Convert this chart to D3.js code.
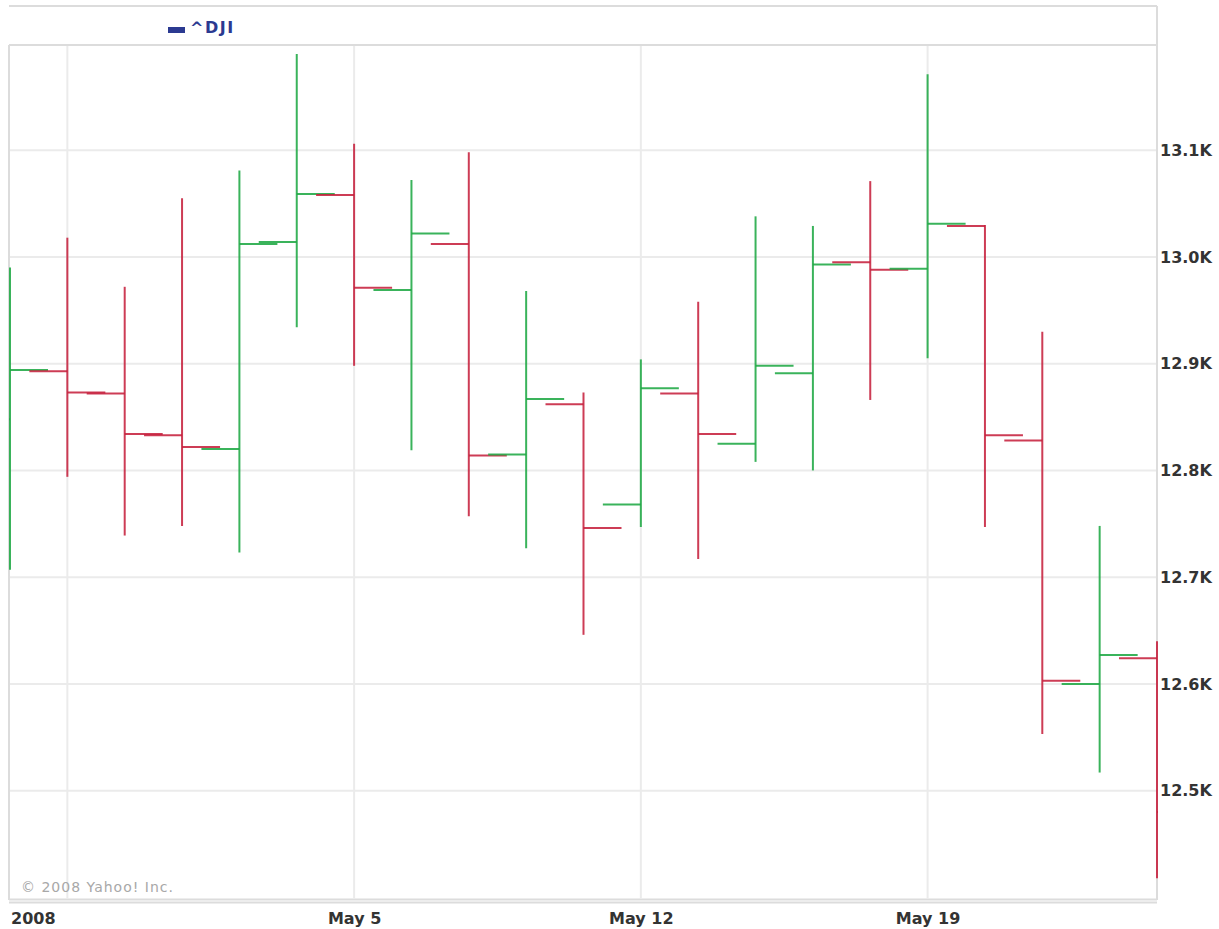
<!DOCTYPE html>
<html lang="en">
<head>
    <meta charset="utf-8">
    <script src="https://d3js.org/d3.v7.min.js"></script>
    <title>^DJI daily bars</title>
    <style>
        body { margin: 0; background: #fff; }
        svg { display: block; }
    </style>
</head>
<body>
    <svg width="1219" height="929"></svg>
    <script>

        // trading days and OHLC values
        var dates  = ["2008-04-25","2008-04-28","2008-04-29","2008-04-30","2008-05-01","2008-05-02",
                      "2008-05-05","2008-05-06","2008-05-07","2008-05-08","2008-05-09",
                      "2008-05-12","2008-05-13","2008-05-14","2008-05-15","2008-05-16",
                      "2008-05-19","2008-05-20","2008-05-21","2008-05-22","2008-05-23"];
        var opens  = [12848, 12893, 12872, 12833, 12820, 13014, 13058, 12969, 13012, 12815, 12862,
                      12768, 12872, 12825, 12891, 12995, 12989, 13029, 12828, 12600, 12624];
        var highs  = [12990, 13018, 12972, 13055, 13081, 13190, 13106, 13072, 13098, 12968, 12873,
                      12904, 12958, 13038, 13029, 13071, 13171, 13030, 12930, 12748, 12640];
        var lows   = [12707, 12794, 12739, 12748, 12723, 12934, 12898, 12819, 12757, 12727, 12646,
                      12747, 12717, 12808, 12800, 12866, 12905, 12747, 12553, 12517, 12418];
        var closes = [12894, 12873, 12834, 12822, 13012, 13059, 12971, 13022, 12814, 12867, 12746,
                      12877, 12834, 12898, 12993, 12988, 13031, 12833, 12603, 12627, 12480];

        var yTicks = [12500, 12600, 12700, 12800, 12900, 13000, 13100];
        var weekStarts = ["2008-04-28","2008-05-05","2008-05-12","2008-05-19"];
        var labelDates = ["2008-05-05","2008-05-12","2008-05-19"];
        var labelTexts = ["May 5","May 12","May 19"];
        var yearLabel = "2008";
        var seriesName = "^DJI";

        var bars = dates.map(function (d, i) {
            return { date: d, o: opens[i], h: highs[i], l: lows[i], c: closes[i] };
        });

        var svg = d3.select("svg");
        var pLeft = 9, pRight = 1157, pTop = 45, pBottom = 900;
        var green = "#1fa844", red = "#c6213e", grid = "#ebebeb", frame = "#dcdcdc";

        var x = d3.scalePoint().domain(dates).range([10, pRight]);
        var y = d3.scaleLinear().domain([12397.6, 13198.5]).range([pBottom, pTop]);
        var tick = 38;

        // frame
        var fr = svg.append("g").attr("stroke", frame).attr("stroke-width", 2).attr("fill", "none");
        fr.append("line").attr("x1", pLeft).attr("x2", pRight).attr("y1", 6).attr("y2", 6);
        fr.append("line").attr("x1", pLeft).attr("x2", pRight).attr("y1", pTop).attr("y2", pTop);
        fr.append("line").attr("x1", pRight).attr("x2", pRight).attr("y1", 6).attr("y2", pBottom);
        fr.append("line").attr("x1", pLeft).attr("x2", pLeft).attr("y1", pTop).attr("y2", pBottom);
        fr.append("line").attr("x1", pLeft).attr("x2", pRight).attr("y1", 899.5).attr("y2", 899.5);
        fr.append("line").attr("x1", pLeft).attr("x2", pRight).attr("y1", 902.5).attr("y2", 902.5);

        // grid
        svg.append("g").selectAll("line")
            .data(yTicks).enter().append("line")
            .attr("x1", pLeft + 1).attr("x2", pRight - 1)
            .attr("y1", function (d) { return y(d); })
            .attr("y2", function (d) { return y(d); })
            .attr("stroke", grid).attr("stroke-width", 2);

        svg.append("g").selectAll("line")
            .data(weekStarts).enter().append("line")
            .attr("x1", function (d) { return x(d); })
            .attr("x2", function (d) { return x(d); })
            .attr("y1", pTop + 1).attr("y2", pBottom - 1)
            .attr("stroke", grid).attr("stroke-width", 2);

        // legend
        svg.append("rect").attr("x", 168).attr("y", 27).attr("width", 17).attr("height", 6).attr("fill", "#2b3a91");
        svg.append("text").attr("x", 190).attr("y", 33)
            .style("font-family", "DejaVu Sans").style("font-weight", "bold").style("font-size", "16px")
            .style("letter-spacing", "1.5px")
            .attr("fill", "#2b3a91").text(seriesName);

        // copyright
        svg.append("text").attr("x", 21).attr("y", 892)
            .style("font-family", "DejaVu Sans").style("font-size", "14px")
            .style("letter-spacing", "1px")
            .attr("fill", "#a8a8a8").text("\u00a9 2008 Yahoo! Inc.");

        // OHLC bars
        svg.append("clipPath").attr("id", "plot")
            .append("rect").attr("x", pLeft).attr("y", pTop).attr("width", pRight - pLeft + 1).attr("height", pBottom - pTop);

        var g = svg.append("g").attr("clip-path", "url(#plot)");
        var bar = g.selectAll("g").data(bars).enter().append("g")
            .attr("stroke", function (d) { return d.c >= d.o ? green : red; })
            .attr("stroke-width", 2)
            .attr("stroke-opacity", 0.88);

        bar.append("line")
            .attr("x1", function (d) { return x(d.date); })
            .attr("x2", function (d) { return x(d.date); })
            .attr("y1", function (d) { return y(d.h); })
            .attr("y2", function (d) { return y(d.l); });
        bar.append("line")
            .attr("x1", function (d) { return x(d.date) - tick; })
            .attr("x2", function (d) { return x(d.date); })
            .attr("y1", function (d) { return y(d.o); })
            .attr("y2", function (d) { return y(d.o); });
        bar.append("line")
            .attr("x1", function (d) { return x(d.date); })
            .attr("x2", function (d) { return x(d.date) + tick; })
            .attr("y1", function (d) { return y(d.c); })
            .attr("y2", function (d) { return y(d.c); });

        // right axis
        var yAxis = svg.append("g")
            .attr("transform", "translate(" + (pRight + 2) + ",0)")
            .call(d3.axisRight(y).tickValues(yTicks).tickSize(0).tickPadding(1)
                .tickFormat(function (d) { return d3.format(".1f")(d / 1000) + "K"; }));
        yAxis.select(".domain").remove();
        yAxis.selectAll("text")
            .style("font-family", "DejaVu Sans").style("font-weight", "bold").style("font-size", "16px")
            .attr("fill", "#333");

        // bottom axis
        var xAxis = svg.append("g")
            .attr("transform", "translate(0," + 906 + ")")
            .call(d3.axisBottom(x).tickValues(labelDates).tickSize(0).tickPadding(0)
                .tickFormat(function (d, i) { return labelTexts[i]; }));
        xAxis.select(".domain").remove();
        xAxis.selectAll("text")
            .attr("dy", "1.1em")
            .style("font-family", "DejaVu Sans").style("font-weight", "bold").style("font-size", "16px")
            .attr("fill", "#333");

        svg.append("text").attr("x", 11).attr("y", 924)
            .style("font-family", "DejaVu Sans").style("font-weight", "bold").style("font-size", "16px")
            .attr("fill", "#333").text(yearLabel);

    </script>
</body>
</html>
